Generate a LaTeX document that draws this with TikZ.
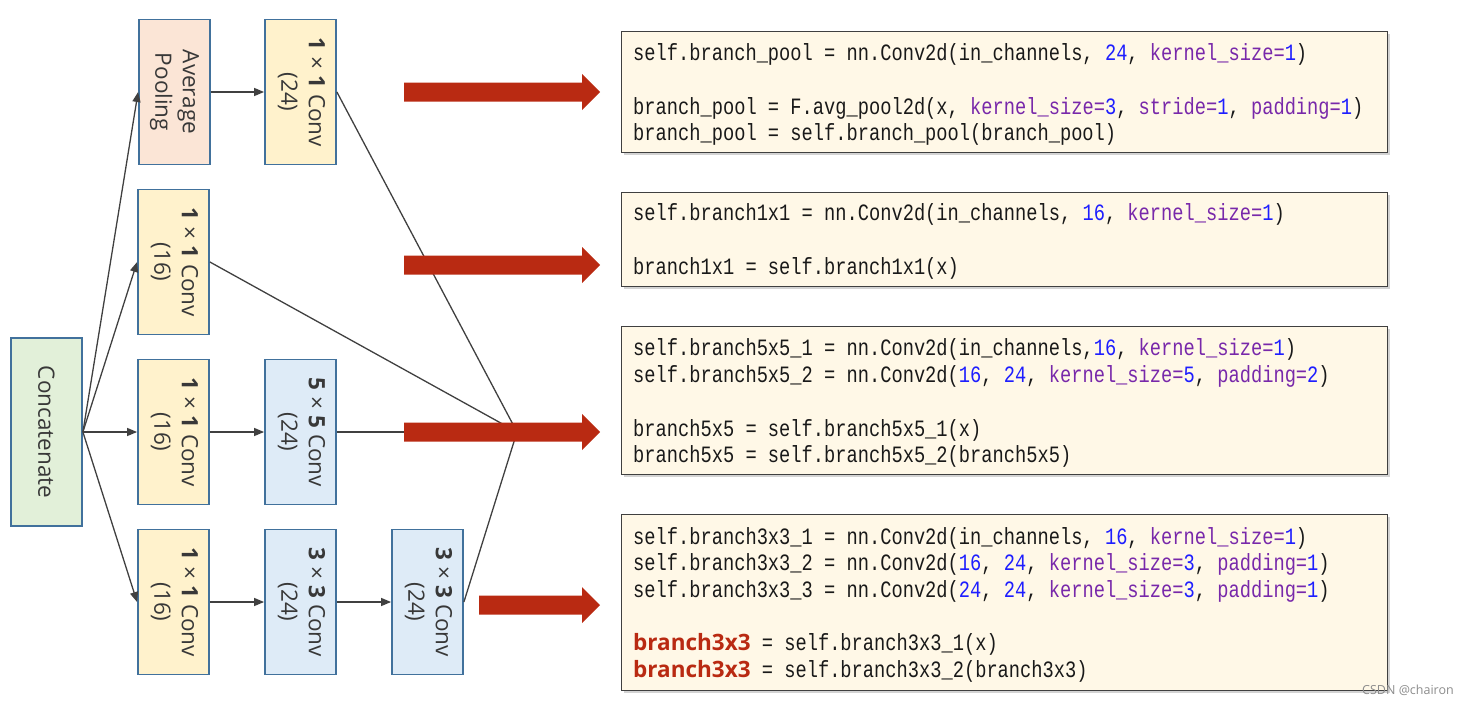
\documentclass[tikz,border=0pt]{standalone}
\usepackage{fontspec}
\setmainfont{Open Sans}
\newfontfamily\codefont[FakeStretch=0.8]{Liberation Mono}
\usepackage{graphicx}
\usetikzlibrary{arrows.meta,shadows}
\definecolor{boxborder}{RGB}{65,113,156}
\definecolor{poolfill}{RGB}{251,229,214}
\definecolor{yelfill}{RGB}{255,242,204}
\definecolor{bluefill}{RGB}{222,235,247}
\definecolor{greenfill}{RGB}{226,240,217}
\definecolor{codefill}{RGB}{255,248,231}
\definecolor{codeborder}{RGB}{64,64,64}
\definecolor{arrowred}{RGB}{185,42,18}
\definecolor{numblue}{RGB}{30,30,255}
\definecolor{kwpurple}{RGB}{120,40,170}
\definecolor{linegray}{RGB}{64,64,64}
\definecolor{labelgray}{RGB}{56,56,56}
\newcommand\nb[1]{\textcolor{numblue}{#1}}
\newcommand\kw[1]{\textcolor{kwpurple}{#1}}
\newcommand\rlbl[2]{\rotatebox{-90}{\begin{tabular}{@{}c@{}}#1\\#2\end{tabular}}}
\newcommand\oxo[1]{\textbf{#1}\;×\;\textbf{#1}}
\newcommand\redb[1]{{\normalfont\bfseries\fontsize{22.5}{27}\selectfont\color{arrowred}#1}}
\frenchspacing
\begin{document}
\begin{tikzpicture}[x=1pt,y=-1pt,
  blk/.style={draw=boxborder, line width=1.8pt, inner sep=0pt, text=labelgray,
    font=\fontsize{22.5}{27.5}\selectfont, minimum width=71pt, minimum height=145pt},
  poolbox/.style={blk, fill=poolfill},
  yelbox/.style={blk, fill=yelfill},
  bluebox/.style={blk, fill=bluefill},
  catbox/.style={blk, fill=greenfill, minimum height=188pt},
  codebox/.style={draw=codeborder, line width=1pt, fill=codefill, minimum width=766pt,
    drop shadow={shadow xshift=3pt, shadow yshift=-3pt, opacity=0.35}},
  codeline/.style={anchor=base west, inner sep=0pt, text=black!90,
    font=\codefont\fontsize{23.4}{27}\selectfont},
  conn/.style={draw=linegray, line width=1.3pt, -{Triangle[length=10pt,width=8pt]}},
  mergeline/.style={draw=linegray, line width=1.3pt},
  redarrow/.style={fill=arrowred}]
\useasboundingbox (0,0) rectangle (1468,704);

% diagram blocks
\node[catbox] (cat) at (46.5,432) {\rotatebox{-90}{Concatenate}};
\node[poolbox] (pool) at (174.5,92) {\rlbl{Average}{Pooling}};
\node[yelbox] (c24a) at (300.5,92) {\rlbl{\oxo{1} Conv}{(24)}};
\node[yelbox] (c16a) at (173.5,262) {\rlbl{\oxo{1} Conv}{(16)}};
\node[yelbox] (c16b) at (173.5,432) {\rlbl{\oxo{1} Conv}{(16)}};
\node[bluebox] (c55) at (300.5,432) {\rlbl{\oxo{5} Conv}{(24)}};
\node[yelbox] (c16c) at (173.5,602) {\rlbl{\oxo{1} Conv}{(16)}};
\node[bluebox] (c33a) at (300.5,602) {\rlbl{\oxo{3} Conv}{(24)}};
\node[bluebox] (c33b) at (427.5,602) {\rlbl{\oxo{3} Conv}{(24)}};

\coordinate (merge) at (517,432);

% connectors
\draw[conn] (cat.east) -- (pool.west);
\draw[conn] (cat.east) -- (c16a.west);
\draw[conn] (cat.east) -- (c16b.west);
\draw[conn] (cat.east) -- (c16c.west);
\draw[conn] (pool.east) -- (c24a.west);
\draw[conn] (c16b.east) -- (c55.west);
\draw[conn] (c16c.east) -- (c33a.west);
\draw[conn] (c33a.east) -- (c33b.west);
\draw[mergeline] (c24a.east) -- (merge);
\draw[mergeline] (c16a.east) -- (merge);
\draw[mergeline] (c55.east) -- (merge);
\draw[mergeline] (c33b.east) -- (merge);

% red arrows
\fill[redarrow] (404,82.5) -- (582,82.5) -- (582,74) -- (600,92) -- (582,110) -- (582,101.5) -- (404,101.5) -- cycle;
\fill[redarrow] (404,255.5) -- (582,255.5) -- (582,247) -- (600,265) -- (582,283) -- (582,274.5) -- (404,274.5) -- cycle;
\fill[redarrow] (404,422.5) -- (582,422.5) -- (582,414) -- (600,432) -- (582,450) -- (582,441.5) -- (404,441.5) -- cycle;
\fill[redarrow] (479,595.5) -- (582,595.5) -- (582,587) -- (600,605) -- (582,623) -- (582,614.5) -- (479,614.5) -- cycle;

% code boxes
\node[codebox, minimum height=121pt] (cb1) at (1004,91.5) {};
\node[codebox, minimum height=94pt] (cb2) at (1004,239) {};
\node[codebox, minimum height=148pt] (cb3) at (1004,400) {};
\node[codebox, minimum height=176pt] (cb4) at (1004,602) {};

\node[codeline] (l11) at (633,60) {self.branch\_pool = nn.Conv2d(in\_channels, \nb{24}, \kw{kernel\_size=}\nb{1})};
\node[codeline] (l12) at (633,114) {branch\_pool = F.avg\_pool2d(x, \kw{kernel\_size=}\nb{3}, \kw{stride=}\nb{1}, \kw{padding=}\nb{1})};
\node[codeline] (l13) at (633,140) {branch\_pool = self.branch\_pool(branch\_pool)};

\node[codeline] (l21) at (633,220) {self.branch1x1 = nn.Conv2d(in\_channels, \nb{16}, \kw{kernel\_size=}\nb{1})};
\node[codeline] (l22) at (633,274) {branch1x1 = self.branch1x1(x)};

\node[codeline] (l31) at (633,355) {self.branch5x5\_1 = nn.Conv2d(in\_channels,\nb{16}, \kw{kernel\_size=}\nb{1})};
\node[codeline] (l32) at (633,382) {self.branch5x5\_2 = nn.Conv2d(\nb{16}, \nb{24}, \kw{kernel\_size=}\nb{5}, \kw{padding=}\nb{2})};
\node[codeline] (l33) at (633,436) {branch5x5 = self.branch5x5\_1(x)};
\node[codeline] (l34) at (633,462) {branch5x5 = self.branch5x5\_2(branch5x5)};

\node[codeline] (l41) at (633,544) {self.branch3x3\_1 = nn.Conv2d(in\_channels, \nb{16}, \kw{kernel\_size=}\nb{1})};
\node[codeline] (l42) at (633,570) {self.branch3x3\_2 = nn.Conv2d(\nb{16}, \nb{24}, \kw{kernel\_size=}\nb{3}, \kw{padding=}\nb{1})};
\node[codeline] (l43) at (633,597) {self.branch3x3\_3 = nn.Conv2d(\nb{24}, \nb{24}, \kw{kernel\_size=}\nb{3}, \kw{padding=}\nb{1})};
\node[codeline] (l44) at (633,650) {\redb{branch3x3} = self.branch3x3\_1(x)};
\node[codeline] (l45) at (633,677) {\redb{branch3x3} = self.branch3x3\_2(branch3x3)};

\node[text=black!45, font=\fontsize{12.5}{14}\selectfont, inner sep=0pt] (wm) at (1408,690) {CSDN @chairon};
\end{tikzpicture}
\end{document}
